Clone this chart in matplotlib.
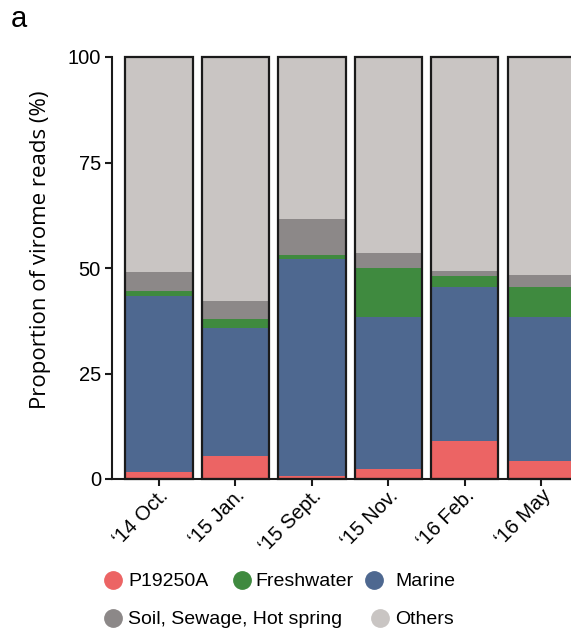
import matplotlib
matplotlib.use("Agg")
import matplotlib.pyplot as plt
from matplotlib.lines import Line2D
import numpy as np

categories = ["\u201814 Oct.", "\u201815 Jan.", "\u201815 Sept.", "\u201815 Nov.", "\u201816 Feb.", "\u201816 May"]
p19250a    = [1.6, 5.4, 0.8, 2.4, 8.9, 4.3]
marine     = [41.8, 30.3, 51.3, 36.1, 36.7, 34.0]
freshwater = [1.1, 2.2, 1.0, 11.5, 2.6, 7.1]
soil       = [4.6, 4.3, 8.6, 3.6, 1.2, 3.0]
series_names = ["P19250A", "Marine", "Freshwater", "Soil, Sewage, Hot spring"]
colors = {"P19250A": "#EC6464", "Freshwater": "#3F8A3F", "Marine": "#4E6890",
          "Soil, Sewage, Hot spring": "#8C8888", "Others": "#C9C5C3"}
yticks = [0, 25, 50, 75, 100]

fig = plt.figure(figsize=(5.71, 6.39), dpi=100)
ax = fig.add_axes([112/571, 1-479/639, 1-112/571, (479-57)/639])

x = np.arange(len(categories))
width = 0.88
series = [p19250a, marine, freshwater, soil]
bottom = np.zeros(len(categories))
for name, vals in zip(series_names, series):
    vals = np.array(vals)
    ax.bar(x, vals, width, bottom=bottom, color=colors[name], edgecolor="none", zorder=2)
    bottom += vals
others = 100 - bottom
ax.bar(x, others, width, bottom=bottom, color=colors["Others"], edgecolor="none", zorder=2)
ax.bar(x, [100]*len(x), width, fill=False, edgecolor="#1a1a1a", linewidth=1.6, zorder=3, clip_on=False)

ax.set_xlim(-0.615, 5.39)
ax.set_ylim(0, 100)
ax.spines["top"].set_visible(False)
ax.spines["right"].set_visible(False)
ax.spines["left"].set_linewidth(1.5)
ax.spines["bottom"].set_linewidth(1.5)
ax.spines["left"].set_color("#1a1a1a")
ax.spines["bottom"].set_color("#1a1a1a")
ax.set_yticks(yticks)
ax.set_yticklabels([str(v) for v in yticks], fontfamily="Liberation Sans", fontsize=14.5)
ax.set_xticks(x)
ax.set_xticklabels(categories, rotation=45, ha="right", rotation_mode="anchor",
                   fontfamily="Liberation Sans", fontsize=14.5)
ax.tick_params(axis="both", length=5, width=1.5, color="#1a1a1a")
ax.tick_params(axis="x", pad=0)
ax.tick_params(axis="y", pad=3)
for lbl in ax.get_xticklabels():
    lbl.set_x(lbl.get_position()[0])
ax.set_ylabel("Proportion of virome reads (%)", fontfamily="Open Sans", fontsize=16)
ax.yaxis.set_label_coords(-0.133, 0.543)

# panel letter
fig.text(11/571, 1-27/639, "a", fontfamily="Liberation Sans", fontsize=21, ha="left", va="baseline")

# legend (manual layout)
legend_items = [("P19250A", 113, 128, 580), ("Freshwater", 242, 255, 580), ("Marine", 374, 395, 580),
                ("Soil, Sewage, Hot spring", 113, 128, 618), ("Others", 380, 395, 618)]
for name, mx, tx, yy in legend_items:
    fig.add_artist(Line2D([mx/571], [1-yy/639], marker="o", markersize=12.5, color=colors[name],
                          linestyle="none", transform=fig.transFigure))
    fig.text(tx/571, 1-yy/639, name, fontfamily="Liberation Sans", fontsize=14, ha="left", va="center_baseline")

fig.savefig("out.png", dpi=100)
